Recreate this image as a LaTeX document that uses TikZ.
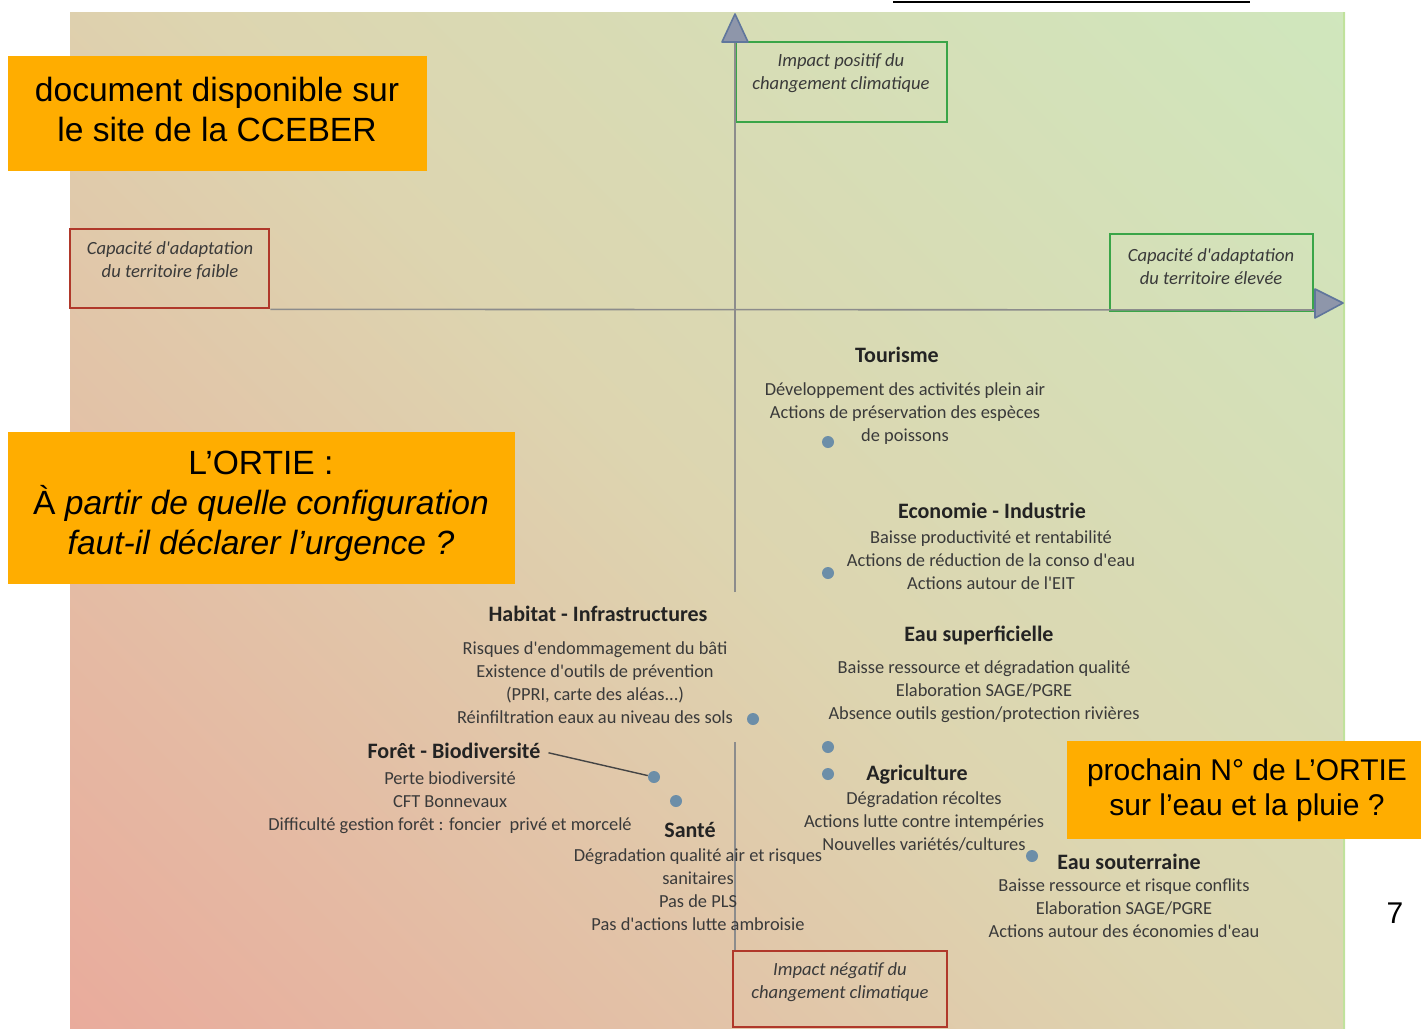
\documentclass[tikz,border=0pt]{standalone}
\usepackage{fontspec}
\setmainfont{Carlito}[Ligatures=TeXOff]
\newfontfamily\orfont{Liberation Sans}
\definecolor{pinkc}{RGB}{238,154,148}
\definecolor{tanc}{RGB}{221,213,176}
\definecolor{greenc}{RGB}{202,238,194}
\definecolor{txtc}{RGB}{58,58,58}
\definecolor{ttlc}{RGB}{35,35,35}
\definecolor{grnc}{RGB}{58,165,72}
\definecolor{redc}{RGB}{176,56,42}
\definecolor{orc}{RGB}{255,173,0}
\definecolor{dotc}{RGB}{108,142,168}
\definecolor{axc}{RGB}{140,140,140}
\definecolor{tipf}{RGB}{142,150,170}
\definecolor{tipd}{RGB}{96,118,156}
\definecolor{edgec}{RGB}{192,226,156}
\pgfdeclarehorizontalshading{bgshade}{100bp}{color(0bp)=(pinkc); color(50bp)=(tanc); color(100bp)=(greenc)}
\begin{document}
\begin{tikzpicture}[x=0.5pt,y=-0.5pt,
  body/.style={font=\fontsize{9.2}{11.5}\selectfont, text=txtc, align=center, inner sep=0pt},
  ttl/.style={font=\fontsize{11}{13}\selectfont\bfseries, text=ttlc, inner sep=0pt},
  gbox/.style={draw=grnc, line width=1.3pt, inner sep=0pt},
  rbox/.style={draw=redc, line width=1.3pt, inner sep=0pt},
  boxtxt/.style={font=\fontsize{9.3}{11.5}\selectfont\itshape, text=txtc, align=center, inner sep=0pt},
  orbox/.style={fill=orc, inner sep=0pt},
  ortxt/.style={font=\orfont\fontsize{16.8}{20}\selectfont, align=center, inner sep=0pt, text=black},
  ortxtsm/.style={font=\orfont\fontsize{15}{17.5}\selectfont, align=center, inner sep=0pt, text=black},
  dot/.style={circle, fill=dotc, minimum size=6pt, inner sep=0pt},
  axis/.style={draw=axc, line width=0.8pt},
  tipst/.style={fill=tipf, draw=tipd, line width=0.8pt, line join=round},
  conn/.style={draw=ttlc!85, line width=0.7pt}]
\useasboundingbox (0,0) rectangle (1421,1029);
\fill[white] (0,0) rectangle (1421,1029);
% background
\shade[shading=bgshade, shading angle=45] (70,12) rectangle (1345,1029);
\draw[edgec, line width=1.2pt] (1344,12) -- (1344,1029);
\draw[black, line width=1pt] (893,1.5) -- (1250,1.5);

% boxes
\node[gbox, minimum width=105.5pt, minimum height=40pt] (topbox) at (841.5,82) {};
\node[rbox, minimum width=99.5pt, minimum height=39.5pt] (leftbox) at (169.5,268.5) {};
\node[gbox, minimum width=101.5pt, minimum height=38.5pt] (rightbox) at (1211.5,272.5) {};
\node[rbox, minimum width=107pt, minimum height=38pt] (botbox) at (840,989) {};

% axes
\coordinate (vtip) at (735,42);
\coordinate (vgap1) at (735,592);
\coordinate (vgap2) at (735,742);
\coordinate (htip) at (1315,310);
\draw[axis] (vgap1) -- (vtip);
\draw[axis] (vgap2) -- (botbox.north west -| vgap2);
\draw[axis] (leftbox.south east) -- (htip);
\filldraw[tipst] (735,14) -- (748,42) -- (722,42) -- cycle;
\filldraw[tipst] (1343,303) -- (1315,318) -- (1315,289) -- cycle;

% box texts
\node[boxtxt] (toptxt) at (841,73) {Impact positif du\\changement climatique};
\node[boxtxt] (lefttxt) at (170,260.5) {Capacité d'adaptation\\du territoire faible};
\node[boxtxt] (righttxt) at (1211,266.5) {Capacité d'adaptation\\du territoire élevée};
\node[boxtxt] (bottxt) at (840,982.5) {Impact négatif du\\changement climatique};

% themes
\node[ttl] (tourT) at (897,355) {Tourisme};
\node[body] (tourB) at (905,414) {Développement des activités plein air\\Actions de préservation des espèces\\de poissons};
\node[ttl] (ecoT) at (992,511) {Economie - Industrie};
\node[body] (ecoB) at (991,560) {Baisse productivité et rentabilité\\Actions de réduction de la conso d'eau\\Actions autour de l'EIT};
\node[ttl] (habT) at (598,614) {Habitat - Infrastructures};
\node[body] (habB) at (595,682.5) {Risques d'endommagement du bâti\\Existence d'outils de prévention\\(PPRI, carte des aléas...)\\Réinfiltration eaux au niveau des sols};
\node[ttl] (eauT) at (979,635) {Eau superficielle};
\node[body] (eauB) at (984,691.5) {Baisse ressource et dégradation qualité\\Elaboration SAGE/PGRE\\Absence outils gestion/protection rivières};
\node[ttl] (forT) at (454,751) {Forêt - Biodiversité};
\node[body] (forB) at (450,802.5) {Perte biodiversité\\CFT Bonnevaux\\Difficulté gestion forêt : foncier\ \ privé et morcelé};
\node[ttl] (sanT) at (690,830) {Santé};
\node[body] (sanB) at (698,889.5) {Dégradation qualité air et risques\\sanitaires\\Pas de PLS\\Pas d'actions lutte ambroisie};
\node[ttl] (agrT) at (917,775) {Agriculture};
\node[body] (agrB) at (924,821) {Dégradation récoltes\\Actions lutte contre intempéries\\Nouvelles variétés/cultures};
\node[ttl] (souT) at (1129,862) {Eau souterraine};
\node[body] (souB) at (1124,908) {Baisse ressource et risque conflits\\Elaboration SAGE/PGRE\\Actions autour des économies d'eau};

% dots
\node[dot] (d1) at (828,442) {};
\node[dot] (d2) at (828,573) {};
\node[dot] (d3) at (753,719) {};
\node[dot] (d4) at (828,747) {};
\node[dot] (d5) at (828,774) {};
\node[dot] (d6) at (654,777) {};
\node[dot] (d7) at (676,801) {};
\node[dot] (d8) at (1032,856) {};
\draw[conn, shorten <=4pt] (forT.east) -- (d6);

% orange overlays
\node[orbox, minimum width=209.5pt, minimum height=57.5pt] (or1) at (217.5,113.5) {};
\node[ortxt] (or1t) at (217,109) {document disponible sur\\le site de la CCEBER};
\node[orbox, minimum width=253.5pt, minimum height=76pt] (or2) at (261.5,508) {};
\node[ortxt] (or2t) at (261,506) {L’ORTIE :\\À \textit{partir de quelle configuration}\\\textit{faut-il déclarer l’urgence ?}};
\node[orbox, minimum width=177pt, minimum height=49pt] (or3) at (1244,790) {};
\node[ortxtsm] (or3t) at (1247,790) {prochain N° de L’ORTIE\\sur l’eau et la pluie ?};
\node[ortxtsm] (pnum) at (1395,913) {7};
\end{tikzpicture}
\end{document}
